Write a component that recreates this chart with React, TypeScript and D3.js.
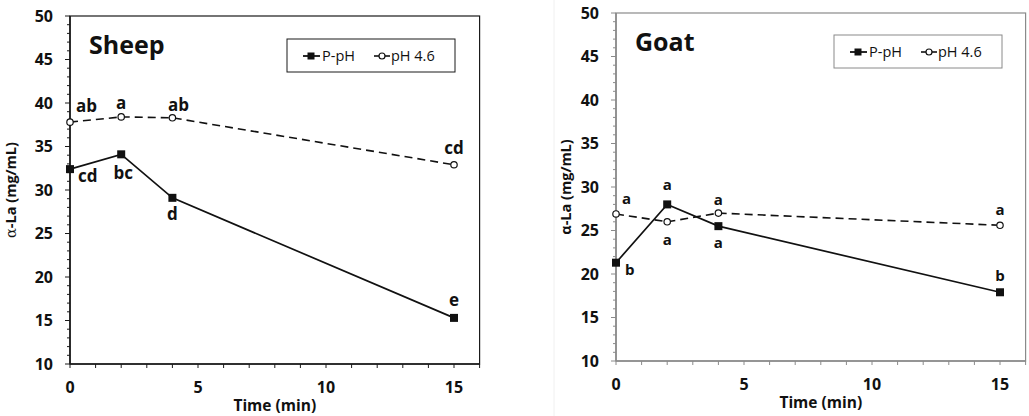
import React from "react";
import * as d3 from "d3";

// time points (min)
const timeMin = [0, 2, 4, 15];

// alpha-La (mg/mL)
const sheepPpH = [32.4, 34.1, 29.1, 15.3];
const sheepPh46 = [37.8, 38.4, 38.3, 32.9];
const goatPpH = [21.3, 28.0, 25.5, 17.9];
const goatPh46 = [26.9, 26.0, 27.0, 25.6];

// significance letters
const sheepPpHLetters = ["cd", "bc", "d", "e"];
const sheepPh46Letters = ["ab", "a", "ab", "cd"];
const goatPpHLetters = ["b", "a", "a", "b"];
const goatPh46Letters = ["a", "a", "a", "a"];

const yTicks = [10, 15, 20, 25, 30, 35, 40, 45, 50];
const xTicks = [0, 5, 10, 15];
const legendLabels = ["P-pH", "pH 4.6"];

const font = "'Open Sans', 'Liberation Sans', sans-serif";

type Off = [number, number, string];

type PanelProps = {
  title: string;
  left: number;
  top: number;
  ppH: number[];
  ph46: number[];
  ppHLetters: string[];
  ph46Letters: string[];
  ppHOff: Off[];
  ph46Off: Off[];
  frameColor: string;
  weight: number;
  letterSize: number;
  legendX: number;
  legendTop: number;
  labelX: number;
  yLabelSerifAlpha: boolean;
};

function Panel(p: PanelProps) {
  const plotW = 16 * 25.6;
  const plotH = 348;
  const x = d3.scaleLinear().domain([0, 16]).range([p.left, p.left + plotW]);
  const y = d3.scaleLinear().domain([10, 50]).range([p.top + plotH, p.top]);

  const line = d3
    .line<number>()
    .x((_, i) => x(timeMin[i]))
    .y((d) => y(d));

  const minorY = d3.range(10, 51, 1);
  const minorX = d3.range(0, 17, 1);
  const textColor = "#111";

  const legendW = 168;
  return (
    <g>
      {/* frame */}
      <rect
        x={p.left}
        y={p.top}
        width={plotW}
        height={plotH}
        fill="none"
        stroke={p.frameColor}
        strokeWidth={1.2}
      />
      {/* y axis */}
      <line x1={p.left} x2={p.left} y1={p.top} y2={p.top + plotH} stroke={p.frameColor} strokeWidth={1.6} />
      {minorY.map((t) => (
        <line
          key={"my" + t}
          x1={p.left - (t % 5 === 0 ? 5 : 3)}
          x2={p.left}
          y1={y(t)}
          y2={y(t)}
          stroke={p.frameColor}
          strokeWidth={1}
        />
      ))}
      {yTicks.map((t) => (
        <text
          key={"ty" + t}
          x={p.left - 17}
          y={y(t)}
          dy="0.36em"
          textAnchor="end"
          fontSize={16}
          fontWeight={p.weight}
          fill={textColor}
          fontFamily={font}
        >
          {t}
        </text>
      ))}
      {/* x axis */}
      <line x1={p.left} x2={p.left + plotW} y1={p.top + plotH} y2={p.top + plotH} stroke={p.frameColor} strokeWidth={1.6} />
      {minorX.map((t) => (
        <line
          key={"mx" + t}
          x1={x(t)}
          x2={x(t)}
          y1={p.top + plotH}
          y2={p.top + plotH + 4}
          stroke={p.frameColor}
          strokeWidth={1}
        />
      ))}
      {xTicks.map((t) => (
        <text
          key={"tx" + t}
          x={x(t)}
          y={p.top + plotH + 29}
          textAnchor="middle"
          fontSize={16}
          fontWeight={p.weight}
          fill={textColor}
          fontFamily={font}
        >
          {t}
        </text>
      ))}
      <text
        x={p.left + plotW / 2}
        y={p.top + plotH + 47}
        textAnchor="middle"
        fontSize={15.5}
        fontWeight={p.weight}
        fill={textColor}
        fontFamily={font}
      >
        Time (min)
      </text>
      <text
        transform={`translate(${p.labelX}, ${p.top + plotH / 2}) rotate(-90)`}
        textAnchor="middle"
        fontSize={14.5}
        fontWeight={p.weight}
        fill={textColor}
        fontFamily={font}
      >
        {p.yLabelSerifAlpha ? (
          <tspan fontFamily="'DejaVu Serif', serif" fontWeight={400}>
            α
          </tspan>
        ) : (
          <tspan>α</tspan>
        )}
        <tspan>-La (mg/mL)</tspan>
      </text>

      {/* title */}
      <text
        x={p.left + 19}
        y={p.top + 38}
        fontSize={25}
        fontWeight={p.weight}
        fill={textColor}
        fontFamily={font}
      >
        {p.title}
      </text>

      {/* legend */}
      <g transform={`translate(${p.legendX}, ${p.legendTop})`}>
        <rect width={legendW} height={33} fill="#fff" stroke={p.frameColor} strokeWidth={1} />
        <line x1={16} x2={33} y1={17} y2={17} stroke="#111" strokeWidth={1.8} />
        <rect x={20.5} y={13.5} width={7} height={7} fill="#111" />
        <text x={35} y={17} dy="0.36em" fontSize={14.5} fill="#111" fontFamily={font}>
          {legendLabels[0]}
        </text>
        <line x1={87} x2={103} y1={17} y2={17} stroke="#111" strokeWidth={1.6} />
        <circle cx={95} cy={17} r={3} fill="#fff" stroke="#111" strokeWidth={1.2} />
        <text x={104} y={17} dy="0.36em" fontSize={14.5} fill="#111" fontFamily={font}>
          {legendLabels[1]}
        </text>
      </g>

      {/* series */}
      <path d={line(p.ph46) || ""} fill="none" stroke="#111" strokeWidth={1.6} strokeDasharray="8,5" />
      <path d={line(p.ppH) || ""} fill="none" stroke="#111" strokeWidth={1.7} />
      {p.ph46.map((v, i) => (
        <circle key={"c" + i} cx={x(timeMin[i])} cy={y(v)} r={3.2} fill="#fff" stroke="#111" strokeWidth={1.2} />
      ))}
      {p.ppH.map((v, i) => (
        <rect key={"s" + i} x={x(timeMin[i]) - 4} y={y(v) - 4} width={8} height={8} fill="#111" />
      ))}

      {/* letters */}
      {p.ph46.map((v, i) => (
        <text
          key={"lc" + i}
          x={x(timeMin[i]) + p.ph46Off[i][0]}
          y={y(v) + p.ph46Off[i][1]}
          textAnchor={p.ph46Off[i][2] as any}
          fontSize={p.letterSize}
          fontWeight={700}
          fill={textColor}
          fontFamily={font}
        >
          {p.ph46Letters[i]}
        </text>
      ))}
      {p.ppH.map((v, i) => (
        <text
          key={"ls" + i}
          x={x(timeMin[i]) + p.ppHOff[i][0]}
          y={y(v) + p.ppHOff[i][1]}
          textAnchor={p.ppHOff[i][2] as any}
          fontSize={p.letterSize}
          fontWeight={700}
          fill={textColor}
          fontFamily={font}
        >
          {p.ppHLetters[i]}
        </text>
      ))}
    </g>
  );
}

export default function App() {
  return (
    <svg
      width={1029}
      height={416}
      style={{ position: "absolute", left: 0, top: 0, background: "#fff" }}
    >
      <rect width={1029} height={416} fill="#fff" />
      <Panel
        title="Sheep"
        left={70}
        top={16}
        ppH={sheepPpH}
        ph46={sheepPh46}
        ppHLetters={sheepPpHLetters}
        ph46Letters={sheepPh46Letters}
        ppHOff={[
          [8, 13, "start"],
          [2, 25, "middle"],
          [0, 22, "middle"],
          [0, -12, "middle"],
        ]}
        ph46Off={[
          [6, -10, "start"],
          [0, -8, "middle"],
          [6, -7, "middle"],
          [0, -11, "middle"],
        ]}
        frameColor="#1a1a1a"
        weight={700}
        letterSize={17}
        legendX={287}
        legendTop={39}
        labelX={16}
        yLabelSerifAlpha={true}
      />
      <line x1={554} x2={554} y1={0} y2={416} stroke="#f0f0f0" />
      <Panel
        title="Goat"
        left={616}
        top={13}
        ppH={goatPpH}
        ph46={goatPh46}
        ppHLetters={goatPpHLetters}
        ph46Letters={goatPh46Letters}
        ppHOff={[
          [9, 12, "start"],
          [0, -14, "middle"],
          [0, 22, "middle"],
          [0, -11, "middle"],
        ]}
        ph46Off={[
          [6, -10, "start"],
          [0, 23, "middle"],
          [0, -8, "middle"],
          [0, -10, "middle"],
        ]}
        frameColor="#8a8a8a"
        weight={700}
        letterSize={15}
        legendX={834}
        legendTop={35}
        labelX={571}
        yLabelSerifAlpha={false}
      />
    </svg>
  );
}
